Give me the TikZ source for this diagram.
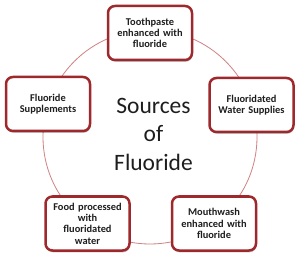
\documentclass[tikz,border=0pt]{standalone}
\usepackage{fontspec}
\setmainfont{Carlito}
\usetikzlibrary{shadows}
\definecolor{boxred}{RGB}{158,40,44}
\definecolor{ringred}{RGB}{208,130,130}
\definecolor{txt}{RGB}{30,30,30}
\begin{document}
\begin{tikzpicture}[x=1pt,y=-1pt,
  srcbox/.style={draw=boxred, line width=2.5pt, rounded corners=7pt, fill=white,
    minimum width=84pt, minimum height=54pt, text width=80pt, align=center, text=txt,
    font=\bfseries\fontsize{10.4}{11.3}\selectfont, inner sep=2pt,
    drop shadow={shadow xshift=0.6pt, shadow yshift=-1.8pt, opacity=0.25, fill=black}},
  ring/.style={draw=ringred, line width=0.8pt},
  title/.style={align=center, text=txt, font=\fontsize{23.5}{28.5}\selectfont}]
\useasboundingbox (0,0) rectangle (300,259);
\fill[white] (0,0) rectangle (300,259);
\coordinate (c) at (150,137);
\draw[ring] (c) circle[radius=107pt];
\node[title] (t) at (153.5,134) {Sources\\of\\Fluoride};
\node[srcbox] (top) at (150,33) {Toothpaste\\enhanced with\\fluoride};
\node[srcbox] (right) at (251.5,105) {Fluoridated\\Water Supplies};
\node[srcbox] (br) at (214,223.5) {Mouthwash\\enhanced with\\fluoride};
\node[srcbox] (bl) at (87.5,223.5) {Food processed\\with\\fluoridated\\water};
\node[srcbox] (left) at (48,104) {Fluoride\\Supplements};
\end{tikzpicture}
\end{document}
